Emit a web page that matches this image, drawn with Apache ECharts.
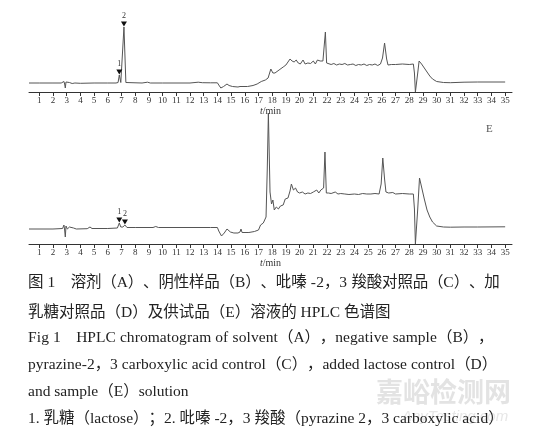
<!DOCTYPE html>
<html><head><meta charset="utf-8">
<script src="https://cdn.jsdelivr.net/npm/echarts@6/dist/echarts.min.js"></script>
<style>html,body{margin:0;padding:0;background:#fff}#c{width:537px;height:435px}</style>
</head><body><div id="c"></div>
<script>
// ---- data (retention time in min, detector signal above baseline) ----
const tickValues = [1,2,3,4,5,6,7,8,9,10,11,12,13,14,15,16,17,18,19,20,21,22,23,24,25,26,27,28,29,30,31,32,33,34,35];

const timeD = [0.25,1,2,2.6,2.8,2.85,2.9,2.95,3,3.2,3.4,3.6,4,5,6,6.6,6.75,6.84,6.95,7.08,7.18,7.32,7.45,8.5,8.9,9.1,10,12,12.6,12.9,13.5,14,14.1,14.25,14.45,14.7,14.85,15.1,15.5,15.65,15.7,15.75,16.2,16.6,16.9,17.2,17.5,17.7,17.9,18.05,18.2,18.5,18.8,19,19.3,19.45,19.6,19.75,19.9,20.05,20.25,20.4,20.6,20.8,21,21.15,21.3,21.5,21.7,21.8,21.88,21.97,22.1,22.3,22.5,22.7,22.9,23.1,23.3,23.5,23.7,23.9,24.1,24.3,24.5,24.7,24.9,25.1,25.3,25.5,25.7,25.9,26.05,26.2,26.35,26.45,26.7,27,27.5,28,28.3,28.38,28.45,28.55,28.62,28.72,28.9,29.1,29.3,29.5,29.7,30,30.5,31,32,33,35];
const signalD = [0,0,0,0,1.5,-1,-5,1,-0.5,0.5,-0.5,0,-0.3,0,0,0,0.5,8,0.5,0.5,56,0.5,0,0,0.8,0,0,0,0.8,0.3,0.2,0.2,-2,-5,-3.5,-1,-2.5,-3.5,-4,-3.5,-1.5,-3.5,-3.5,-2.5,-1,1.5,3,5,14,10,10,13,16,18,24,22,21,23,20,19,23,19,20,19.5,22,19,23,22,22,20,51,20,19,18.5,19.5,18,19,18.5,19.5,18,18.5,19,17.5,18.5,18,19,17.5,18.5,18,19,17.5,19,25,40,24,18,18.5,18.5,19,18.5,19,10,-9,-9,10,22,19,15,11,7,4,1.5,0.5,0.3,0.8,1,1];

const timeE = [0.25,2,2.7,2.8,2.85,2.9,2.95,3.05,3.2,3.3,3.5,3.7,4.5,4.7,4.85,6,6.7,6.84,6.95,7.1,7.25,7.4,8,9.3,9.5,9.7,12,13.5,14,14.1,14.3,14.5,14.7,14.8,14.95,15.2,15.5,15.65,15.72,15.8,16.3,16.7,17,17.15,17.35,17.55,17.64,17.72,17.84,17.95,18.05,18.15,18.3,18.45,18.6,18.8,18.95,19.15,19.3,19.4,19.55,19.7,19.85,20,20.2,20.4,20.6,20.8,21,21.1,21.25,21.4,21.55,21.65,21.75,21.85,21.95,22.1,22.3,22.6,22.8,23,23.3,23.6,24,24.3,24.6,24.9,25.2,25.5,25.8,25.95,26.07,26.2,26.3,26.5,26.8,27,27.5,28,28.3,28.38,28.45,28.55,28.62,28.75,28.9,29.1,29.3,29.5,29.7,30,30.5,31,32,33,35];
const signalE = [0,0,0.5,4,-1,-8,3,0,2,0,1,0,0.3,2,0.5,0.5,1,6,2,2,4,1.5,1.5,1.5,2.5,1.5,1.5,1.5,1.5,-2,-7,-4,0,1,-3,-4,-4,-3,0,-3.5,-3.5,-2.5,-1,4,6,12,60,116,37,25,29,19,22,20,23,24,30,31,38,45,39,41,37,36,37,35,36,35.5,37,35,39,36,39,37,41,77,36,36,35.5,37,35,35.5,35,34.5,35,34.5,35.5,35,35,35.5,35,45,71,50,37,36,36.5,35,35.5,35,35,20,-15,-15,20,51,42,30,19,12,7,3,2,1.8,2,2,2.2];

const peakMarks = [
  {chart: 0, name: '1', t: 6.84, v: 8},
  {chart: 0, name: '2', t: 7.18, v: 56},
  {chart: 1, name: '1', t: 6.84, v: 6},
  {chart: 1, name: '2', t: 7.25, v: 4}
];

const captionLines = [
  '图 1　溶剂（A）、阴性样品（B）、吡嗪 -2，3 羧酸对照品（C）、加',
  '乳糖对照品（D）及供试品（E）溶液的 HPLC 色谱图',
  'Fig 1　HPLC chromatogram of solvent（A），negative sample（B），',
  'pyrazine-2，3 carboxylic acid control（C），added lactose control（D）',
  'and sample（E）solution',
  '1. 乳糖（lactose）；2. 吡嗪 -2，3 羧酸（pyrazine 2，3 carboxylic acid）'
];

// ---- chart ----
const serif = "'Liberation Serif','Noto Sans CJK SC',serif";
function zip(a, b) { return a.map((x, i) => [x, b[i]]); }

function xAxis(idx) {
  return {
    gridIndex: idx, type: 'value', min: 0.25, max: 35.5,
    axisLine: {show: true, onZero: false, lineStyle: {color: '#333', width: 1}},
    axisTick: {show: true, customValues: tickValues, length: 4, lineStyle: {color: '#333'}},
    axisLabel: {show: true, customValues: tickValues, fontFamily: serif, fontSize: 9, color: '#333', margin: 4},
    splitLine: {show: false},
    name: '{i|t}/min', nameLocation: 'middle', nameGap: idx === 0 ? 12 : 14,
    nameTextStyle: {fontFamily: serif, fontSize: 10, color: '#333', rich: {i: {fontStyle: 'italic', fontFamily: serif, fontSize: 10, color: '#333'}}}
  };
}

function marks(chart) {
  return peakMarks.filter(m => m.chart === chart).map(m => ({
    coord: [m.t, m.v], name: m.name,
    label: {show: true, formatter: m.name, position: 'top', distance: 2,
      fontFamily: serif, fontSize: 8, color: '#333'}
  }));
}

// justified caption lines (text spread to the reference line length)
const mctx = document.createElement('canvas').getContext('2d');
function lineElements(text, font, x0, x1, yMid, justify) {
  mctx.font = font;
  const chars = Array.from(text);
  const widths = chars.map(c => mctx.measureText(c).width);
  const natural = mctx.measureText(text).width;
  const gaps = [];
  for (let i = 0; i < chars.length - 1; i++) gaps.push(i);
  const extra = justify ? Math.max(0, (x1 - x0) - natural) / Math.max(1, gaps.length) : 0;
  const scale = natural / widths.reduce((a, b) => a + b, 0);
  const els = [];
  let x = x0;
  chars.forEach((c, i) => {
    els.push({type: 'text', x: x, y: yMid, z: 10, silent: true,
      style: {text: c, font: font, fill: '#222', textVerticalAlign: 'middle', verticalAlign: 'middle'}});
    x += widths[i] * scale + extra;
  });
  return els;
}

const capFont = "15.5px " + serif;
const captionGraphics = [].concat(
  lineElements(captionLines[0], capFont, 28, 499, 283, true),
  lineElements(captionLines[1], capFont, 28, 393, 313, false),
  lineElements(captionLines[2], capFont, 28, 493, 338, true),
  lineElements(captionLines[3], capFont, 28, 497, 365, true),
  lineElements(captionLines[4], capFont, 28, 190, 392, false),
  lineElements(captionLines[5], capFont, 28, 493, 419, true)
);

const chart = echarts.init(document.getElementById('c'), null, {renderer: 'canvas'});
chart.setOption({
  animation: false,
  backgroundColor: '#fff',
  grid: [
    {left: 29, right: 25, top: 20, height: 72},
    {left: 29, right: 25, top: 110, height: 134}
  ],
  xAxis: [xAxis(0), xAxis(1)],
  yAxis: [
    {gridIndex: 0, type: 'value', min: -9, max: 63, show: false},
    {gridIndex: 1, type: 'value', min: -15, max: 119, show: false}
  ],
  series: [
    {type: 'line', xAxisIndex: 0, yAxisIndex: 0, data: zip(timeD, signalD), showSymbol: false, symbol: 'none',
      lineStyle: {color: '#555', width: 1}, clip: false,
      markPoint: {symbol: 'triangle', symbolRotate: 180, symbolSize: [6, 5], symbolOffset: [0, -3],
        itemStyle: {color: '#111'}, data: marks(0)}},
    {type: 'line', xAxisIndex: 1, yAxisIndex: 1, data: zip(timeE, signalE), showSymbol: false, symbol: 'none',
      lineStyle: {color: '#555', width: 1}, clip: false,
      markPoint: {symbol: 'triangle', symbolRotate: 180, symbolSize: [6, 5], symbolOffset: [0, -3],
        itemStyle: {color: '#111'}, data: marks(1)}}
  ],
  graphic: [
    {type: 'text', left: 486, top: 124, z: 10, style: {text: 'E', font: "11px 'Liberation Serif'", fill: '#555'}},
    {type: 'text', left: 376, top: 378, z: 1, style: {text: '嘉峪检测网', font: "bold 27px 'Noto Sans CJK SC'", fill: 'rgba(200,200,200,0.5)'}},
    {type: 'text', left: 402, top: 409, z: 1, style: {text: 'AnyTesting.com', font: "italic 15px 'Liberation Sans'", fill: 'rgba(200,200,200,0.45)'}}
  ].concat(captionGraphics)
});
</script></body></html>
